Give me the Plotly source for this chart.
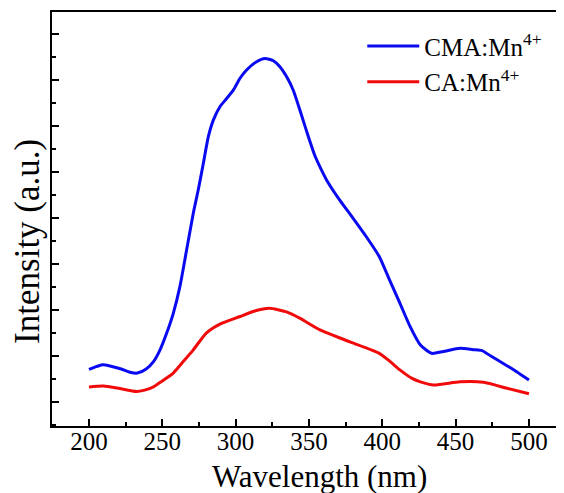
import plotly.graph_objects as go

# Blue: CMA:Mn4+
cma_x = [200, 205, 209, 215, 222, 228, 233, 239, 244, 248.4, 253, 257.5, 262, 266.6, 271.1,
         274.5, 278, 281.4, 284.8, 289.3, 293.9, 298.4, 303, 307.5, 314.3, 320, 325.7, 330.2,
         334.8, 339.3, 345, 350, 354, 358, 362, 371, 380, 389, 398, 405, 412, 419, 426,
         433.6, 441.6, 453, 462, 468, 474, 482.5, 491.6, 500]
cma_y = [1.23, 1.29, 1.33, 1.30, 1.24, 1.17, 1.15, 1.24, 1.40, 1.65, 2.02, 2.45, 3.03, 3.83,
         4.62, 5.13, 5.71, 6.29, 6.65, 6.94, 7.12, 7.30, 7.56, 7.74, 7.92, 7.99, 7.94, 7.81,
         7.59, 7.30, 6.75, 6.25, 5.88, 5.60, 5.35, 4.91, 4.52, 4.12, 3.68, 3.17, 2.67, 2.16,
         1.76, 1.58, 1.62, 1.69, 1.66, 1.64, 1.52, 1.36, 1.18, 1.00]

# Red: CA:Mn4+
ca_x = [200, 210, 220, 232.5, 238, 244, 250, 257.5, 264, 271, 280, 289, 303, 313, 323, 334.7,
        344, 357.5, 378, 398, 405, 412, 420, 426, 435, 453, 469, 485, 500]
ca_y = [0.85, 0.87, 0.82, 0.75, 0.78, 0.85, 0.98, 1.15, 1.39, 1.65, 2.02, 2.21, 2.38, 2.50,
        2.56, 2.48, 2.34, 2.09, 1.83, 1.58, 1.41, 1.22, 1.04, 0.96, 0.89, 0.96, 0.95, 0.82, 0.70]

x_ticks = [200, 250, 300, 350, 400, 450, 500]

font = "Liberation Serif"

fig = go.Figure()
fig.add_trace(go.Scatter(x=cma_x, y=cma_y, mode="lines", name="CMA:Mn<sup>4+</sup>",
                         line=dict(color="#0a0af0", width=3, shape="spline", smoothing=0.6),
                         legend="legend"))
fig.add_trace(go.Scatter(x=ca_x, y=ca_y, mode="lines", name="CA:Mn<sup>4+</sup>",
                         line=dict(color="#f00a0a", width=3, shape="spline", smoothing=0.6),
                         legend="legend2"))

leg_common = dict(xanchor="left", yanchor="middle", itemwidth=52,
                  font=dict(family=font, size=25, color="black"),
                  bgcolor="rgba(0,0,0,0)")

# page has an 8px body offset, so the figure is 8px smaller than the window
fig.update_layout(
    width=556, height=485,
    margin=dict(l=44, r=0, t=4, b=67),
    paper_bgcolor="white", plot_bgcolor="white",
    font=dict(family=font, color="black"),
    showlegend=True,
    legend=dict(x=0.606, y=0.917, **leg_common),
    legend2=dict(x=0.606, y=0.831, **leg_common),
    xaxis=dict(range=[174.8, 523.9], tickvals=x_ticks, ticks="inside", ticklen=7, tickwidth=2,
               tickcolor="black", showline=True, linewidth=2, linecolor="black", mirror=True,
               showgrid=False, zeroline=False, automargin=False,
               tickfont=dict(family=font, size=25), ticklabelstandoff=-8,
               minor=dict(ticks="inside", ticklen=4, tickwidth=2, tickcolor="black", dtick=25, tick0=200)),
    yaxis=dict(range=[0, 9.0], tick0=0.522, dtick=1, ticks="inside", ticklen=7, tickwidth=2,
               tickcolor="black", showline=True, linewidth=2, linecolor="black", mirror=False,
               showgrid=False, zeroline=False, showticklabels=False, automargin=False,
               minor=dict(ticks="inside", ticklen=4, tickwidth=2, tickcolor="black", dtick=0.5, tick0=0.022)),
    annotations=[
        dict(text="Intensity (a.u.)", textangle=-90, xref="paper", yref="paper",
             x=-0.047, y=0.447, xanchor="center", yanchor="middle", showarrow=False,
             font=dict(family=font, size=35, color="black")),
        dict(text="Wavelength (nm)", xref="paper", yref="paper",
             x=0.523, y=-0.121, xanchor="center", yanchor="middle", showarrow=False,
             font=dict(family=font, size=31, color="black")),
    ],
)

fig.write_html("out.html")
